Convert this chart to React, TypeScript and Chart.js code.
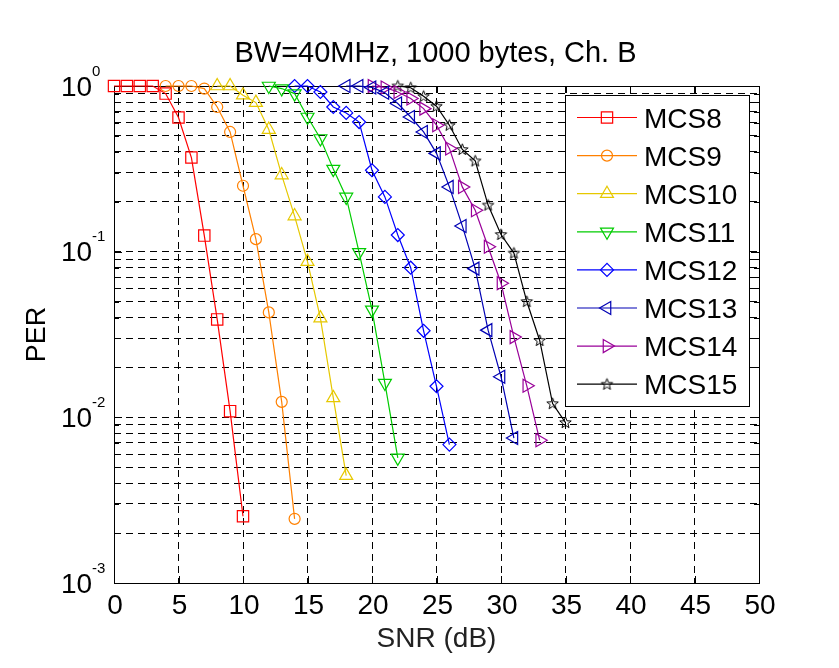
import React, { useEffect, useRef } from 'react';
import { Chart, registerables } from 'chart.js';
import { drawPoint } from 'chart.js/helpers';

Chart.register(...registerables);

// ---- data ----
const titleText = 'BW=40MHz, 1000 bytes, Ch. B';
const xTitle = 'SNR (dB)';
const yTitle = 'PER';
const xTickValues = [0, 5, 10, 15, 20, 25, 30, 35, 40, 45, 50];
const yTickValues = [1, 0.1, 0.01, 0.001];
const yTickExponents = ['0', '-1', '-2', '-3'];
const seriesNames = ['MCS8', 'MCS9', 'MCS10', 'MCS11', 'MCS12', 'MCS13', 'MCS14', 'MCS15'];

const snrMCS8 = [0, 1, 2, 3, 4, 5, 6, 7, 8, 9, 10];
const perMCS8 = [1, 1, 1, 1, 0.9, 0.645, 0.37, 0.125, 0.039, 0.0109, 0.00253];
const snrMCS9 = [4, 5, 6, 7, 8, 9, 10, 11, 12, 13, 14];
const perMCS9 = [1, 1, 1, 0.965, 0.747, 0.528, 0.25, 0.119, 0.043, 0.0124, 0.00244];
const snrMCS10 = [8, 9, 10, 11, 12, 13, 14, 15, 16, 17, 18];
const perMCS10 = [1, 1, 0.88, 0.794, 0.546, 0.29, 0.164, 0.087, 0.0397, 0.0131, 0.00445];
const snrMCS11 = [12, 13, 14, 15, 16, 17, 18, 19, 20, 21, 22];
const perMCS11 = [1, 0.965, 0.9, 0.65, 0.482, 0.315, 0.214, 0.099, 0.0445, 0.0161, 0.00569];
const snrMCS12 = [14, 15, 16, 17, 18, 19, 20, 21, 22, 23, 24, 25, 26];
const perMCS12 = [1, 1, 0.92, 0.747, 0.688, 0.606, 0.31, 0.214, 0.126, 0.08, 0.0333, 0.0154, 0.00685];
const snrMCS13 = [18, 19, 20, 21, 22, 23, 24, 25, 26, 27, 28, 29, 30, 31];
const perMCS13 = [1, 1, 0.98, 0.91, 0.784, 0.65, 0.528, 0.392, 0.246, 0.143, 0.079, 0.0336, 0.0176, 0.0075];
const snrMCS14 = [20, 21, 22, 23, 24, 25, 26, 27, 28, 29, 30, 31, 32, 33];
const perMCS14 = [1, 0.98, 0.92, 0.84, 0.73, 0.58, 0.42, 0.246, 0.178, 0.107, 0.0645, 0.0305, 0.0155, 0.00727];
const snrMCS15 = [22, 23, 24, 25, 26, 27, 28, 29, 30, 31, 32, 33, 34, 35];
const perMCS15 = [1, 0.976, 0.867, 0.755, 0.58, 0.414, 0.353, 0.191, 0.127, 0.098, 0.05, 0.0291, 0.0121, 0.0093];

const FONT = "'Liberation Sans', Arial, Helvetica, sans-serif";

function makeStar(color: string): HTMLCanvasElement {
  const c = document.createElement('canvas');
  c.width = 15;
  c.height = 15;
  const g = c.getContext('2d')!;
  const cx = 7.5, cy = 7.8, ro = 6, ri = 2.5;
  g.beginPath();
  for (let i = 0; i < 10; i++) {
    const r = i % 2 === 0 ? ro : ri;
    const a = -Math.PI / 2 + (i * Math.PI) / 5;
    const px = cx + r * Math.cos(a);
    const py = cy + r * Math.sin(a);
    if (i === 0) g.moveTo(px, py); else g.lineTo(px, py);
  }
  g.closePath();
  g.strokeStyle = color;
  g.lineWidth = 1;
  g.stroke();
  return c;
}

export default function App() {
  const ref = useRef<HTMLCanvasElement | null>(null);

  useEffect(() => {
    const canvas = ref.current;
    if (!canvas) return;

    const star = makeStar('#000000');
    const styles: any[] = [
      { color: '#FF0000', pointStyle: 'rect', rotation: 0, radius: 8 },
      { color: '#FF8000', pointStyle: 'circle', rotation: 0, radius: 5.5 },
      { color: '#E6C800', pointStyle: 'triangle', rotation: 0, radius: 7.5 },
      { color: '#00CC00', pointStyle: 'triangle', rotation: 180, radius: 7.5 },
      { color: '#0000FF', pointStyle: 'rectRot', rotation: 0, radius: 6.5 },
      { color: '#0000B4', pointStyle: 'triangle', rotation: 270, radius: 7.5 },
      { color: '#990099', pointStyle: 'triangle', rotation: 90, radius: 7.5 },
      { color: '#000000', pointStyle: star, rotation: 0, radius: 6 },
    ];
    const xs = [snrMCS8, snrMCS9, snrMCS10, snrMCS11, snrMCS12, snrMCS13, snrMCS14, snrMCS15];
    const ys = [perMCS8, perMCS9, perMCS10, perMCS11, perMCS12, perMCS13, perMCS14, perMCS15];

    const datasets = seriesNames.map((name, k) => ({
      label: name,
      data: xs[k].map((x, i) => ({ x, y: ys[k][i] })),
      borderColor: styles[k].color,
      borderWidth: 1.2,
      pointStyle: styles[k].pointStyle,
      pointRotation: styles[k].rotation,
      pointRadius: styles[k].radius,
      pointBorderColor: styles[k].color,
      pointBackgroundColor: 'rgba(0,0,0,0)',
      pointBorderWidth: 1.2,
      fill: false,
      tension: 0,
      clip: false as any,
    }));

    const yGridValues: number[] = [];
    for (let e = -3; e < 0; e++) {
      for (let m = 1; m <= 9; m++) yGridValues.push(parseFloat((m * Math.pow(10, e)).toPrecision(6)));
    }
    yGridValues.push(1);

    const decor = {
      id: 'decor',
      beforeDatasetsDraw(chart: any) {
        const { ctx, chartArea: a, scales } = chart;
        ctx.save();
        ctx.setLineDash([]);
        ctx.strokeStyle = '#000';
        ctx.lineWidth = 1;
        ctx.beginPath();
        for (const v of xTickValues) {
          const px = Math.round(scales.x.getPixelForValue(v)) + 0.5;
          ctx.moveTo(px, a.bottom);
          ctx.lineTo(px, a.bottom - 7);
          ctx.moveTo(px, a.top);
          ctx.lineTo(px, a.top + 7);
        }
        for (const v of yGridValues) {
          const py = Math.round(scales.y.getPixelForValue(v)) + 0.5;
          const major = yTickValues.includes(v);
          const len = major ? 8 : 5;
          ctx.moveTo(a.left, py);
          ctx.lineTo(a.left + len, py);
          ctx.moveTo(a.right, py);
          ctx.lineTo(a.right - len, py);
        }
        ctx.stroke();
        ctx.strokeRect(Math.round(a.left) + 0.5, Math.round(a.top) + 0.5,
          Math.round(a.right - a.left), Math.round(a.bottom - a.top));
        ctx.restore();
      },
      afterDraw(chart: any) {
        const { ctx, chartArea: a, scales } = chart;
        ctx.save();
        ctx.setLineDash([]);
        ctx.fillStyle = '#000';
        // title
        ctx.font = `29px ${FONT}`;
        ctx.textAlign = 'center';
        ctx.textBaseline = 'alphabetic';
        ctx.fillText(titleText, (a.left + a.right) / 2 - 1, 62);
        // x tick labels
        ctx.font = `28px ${FONT}`;
        for (const v of xTickValues) {
          const px = scales.x.getPixelForValue(v);
          ctx.fillText(String(v), px + 1, 614);
        }
        // x title
        ctx.fillStyle = '#222';
        ctx.fillText(xTitle, (a.left + a.right) / 2, 647);
        ctx.fillStyle = '#000';
        // y tick labels
        ctx.textAlign = 'left';
        yTickValues.forEach((v, i) => {
          const py = scales.y.getPixelForValue(v);
          ctx.font = `28px ${FONT}`;
          ctx.fillText('10', 61, py + 9.5);
          ctx.font = `15px ${FONT}`;
          ctx.fillText(yTickExponents[i], 92, py - 10.5);
        });
        // y title
        ctx.save();
        ctx.translate(45, (a.top + a.bottom) / 2);
        ctx.rotate(-Math.PI / 2);
        ctx.textAlign = 'center';
        ctx.font = `27px ${FONT}`;
        ctx.fillText(yTitle, 0, 0);
        ctx.restore();
        // legend
        const lx = 565.5, ly = 95.5, lw = 184, lh = 311;
        ctx.fillStyle = '#fff';
        ctx.fillRect(lx, ly, lw, lh);
        ctx.strokeStyle = '#000';
        ctx.lineWidth = 1;
        ctx.strokeRect(lx, ly, lw, lh);
        seriesNames.forEach((name, k) => {
          const yy = 117.5 + k * 38.1;
          const st = styles[k];
          ctx.strokeStyle = st.color;
          ctx.lineWidth = 1.2;
          ctx.beginPath();
          ctx.moveTo(577, yy);
          ctx.lineTo(637, yy);
          ctx.stroke();
          ctx.fillStyle = 'rgba(0,0,0,0)';
          drawPoint(ctx, { pointStyle: st.pointStyle, rotation: st.rotation, radius: st.radius, borderWidth: 1.2 } as any, 607, yy);
          ctx.fillStyle = '#000';
          ctx.font = `28px ${FONT}`;
          ctx.textAlign = 'left';
          ctx.fillText(name, 644, yy + 10);
        });
        ctx.restore();
      },
    };

    const chart = new Chart(canvas, {
      type: 'line',
      data: { datasets: datasets as any },
      options: {
        animation: false,
        responsive: false,
        maintainAspectRatio: false,
        devicePixelRatio: 1,
        layout: { padding: { top: 86, right: 80, left: 0, bottom: 0 } },
        plugins: { legend: { display: false }, title: { display: false }, tooltip: { enabled: false } },
        scales: {
          x: {
            type: 'linear',
            min: 0,
            max: 50,
            afterBuildTicks: (s: any) => { s.ticks = xTickValues.map((v) => ({ value: v })); },
            afterFit: (s: any) => { s.height = 85; },
            ticks: { display: false },
            grid: { color: '#000', lineWidth: 1, drawTicks: false },
            border: { display: false, dash: [7, 5] },
          },
          y: {
            type: 'logarithmic',
            min: 0.001,
            max: 1,
            afterBuildTicks: (s: any) => { s.ticks = yGridValues.map((v) => ({ value: v })); },
            afterFit: (s: any) => { s.width = 114; },
            ticks: { display: false },
            grid: { color: '#000', lineWidth: 1, drawTicks: false },
            border: { display: false, dash: [7, 5] },
          },
        },
      },
      plugins: [decor],
    });
    return () => chart.destroy();
  }, []);

  return (
    <div style={{ position: 'absolute', left: 0, top: 0, width: 839, height: 668, background: '#fff' }}>
      <canvas ref={ref} width={839} height={668} style={{ display: 'block' }} />
    </div>
  );
}
